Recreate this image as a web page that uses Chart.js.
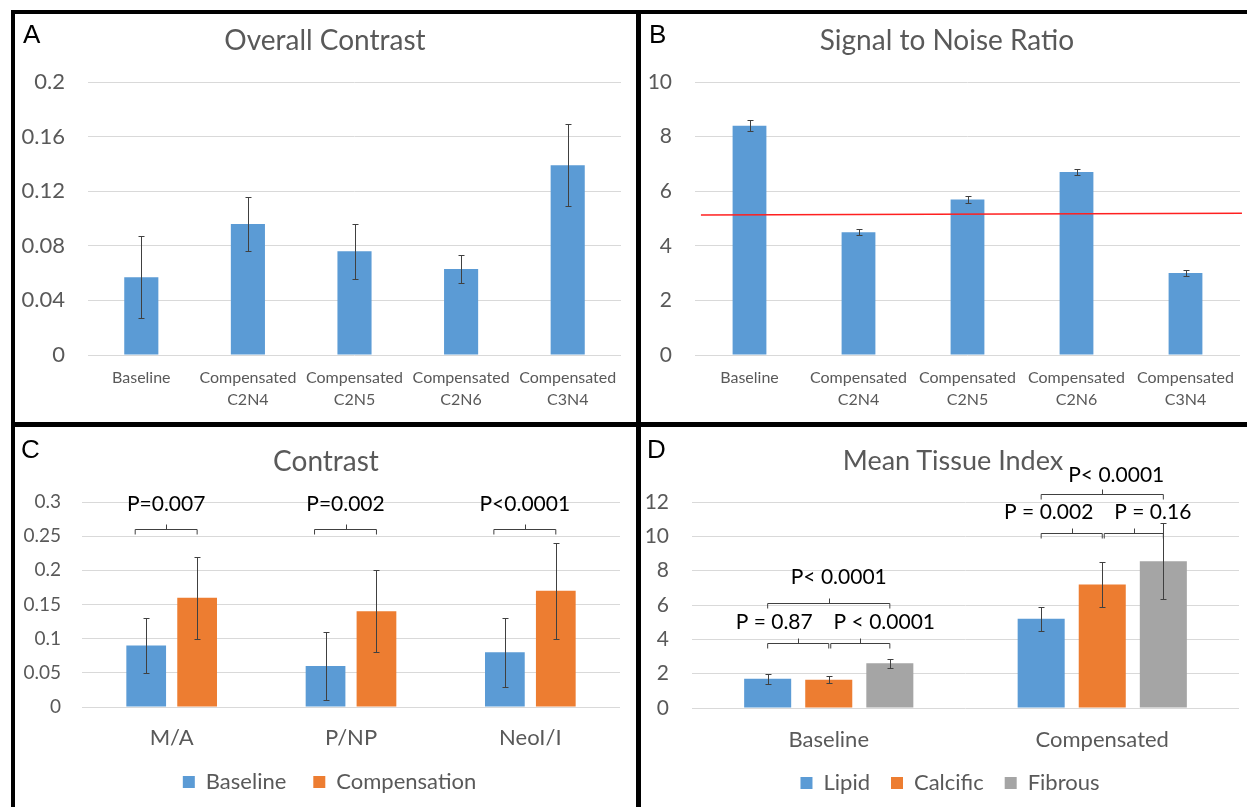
<!DOCTYPE html>
<html><head><meta charset="utf-8">
<script src="https://cdn.jsdelivr.net/npm/chart.js@4.4.1/dist/chart.umd.min.js"></script>
<style>
html,body{margin:0;padding:0;background:#fff;width:1247px;height:807px;overflow:hidden;}
#wrap{position:relative;width:1247px;height:807px;}
.frame{position:absolute;background:#000;}
canvas{position:absolute;}
.title{position:absolute;width:500px;text-align:center;font-family:Lato,sans-serif;color:#595959;font-size:28px;line-height:30px;white-space:nowrap;}
.letter{position:absolute;font-family:'Liberation Sans',Arial,sans-serif;font-size:26px;line-height:26px;color:#000;}
</style></head>
<body><div id="wrap">
<canvas id="cA" width="621" height="408" style="left:15px;top:14px"></canvas>
<canvas id="cB" width="606" height="408" style="left:641px;top:14px"></canvas>
<canvas id="cC" width="621" height="380" style="left:15px;top:427px"></canvas>
<canvas id="cD" width="606" height="380" style="left:641px;top:427px"></canvas>

<div class="title" style="left:75px;top:24px">Overall Contrast</div>
<div class="title" style="left:697px;top:24px">Signal to Noise Ratio</div>
<div class="title" style="left:76px;top:445px">Contrast</div>
<div class="title" style="left:703px;top:445px;font-size:27px">Mean Tissue Index</div>

<div class="letter" style="left:23px;top:21px">A</div>
<div class="letter" style="left:649px;top:21px">B</div>
<div class="letter" style="left:21px;top:436px">C</div>
<div class="letter" style="left:647px;top:436px">D</div>

<div class="frame" style="left:11px;top:10px;width:1236px;height:4px"></div>
<div class="frame" style="left:11px;top:10px;width:4px;height:797px"></div>
<div class="frame" style="left:636px;top:10px;width:5px;height:797px"></div>
<div class="frame" style="left:11px;top:422px;width:1236px;height:5px"></div>
</div>
<script>
// ---------- DATA ----------
const overallCategories = ['Baseline', ['Compensated','C2N4'], ['Compensated','C2N5'], ['Compensated','C2N6'], ['Compensated','C3N4']];
const overallContrast = [0.057, 0.096, 0.076, 0.063, 0.139];
const overallContrastErr = [0.030, 0.020, 0.020, 0.010, 0.030];
const overallTickValues = [0, 0.04, 0.08, 0.12, 0.16, 0.2];
const overallTickLabels = ['0', '0.04', '0.08', '0.12', '0.16', '0.2'];

const snrCategories = ['Baseline', ['Compensated','C2N4'], ['Compensated','C2N5'], ['Compensated','C2N6'], ['Compensated','C3N4']];
const snrValues = [8.4, 4.5, 5.7, 6.7, 3.0];
const snrErr = [0.2, 0.12, 0.12, 0.12, 0.12];
const snrThreshold = [{x: 0, y: 5.13}, {x: 1, y: 5.19}];
const snrTickValues = [0, 2, 4, 6, 8, 10];
const snrTickLabels = ['0', '2', '4', '6', '8', '10'];

const contrastCategories = ['M/A', 'P/NP', 'NeoI/I'];
const contrastBaseline = [0.09, 0.06, 0.08];
const contrastBaselineErr = [0.04, 0.05, 0.05];
const contrastCompensation = [0.16, 0.14, 0.17];
const contrastCompensationErr = [0.06, 0.06, 0.07];
const contrastTickValues = [0, 0.05, 0.1, 0.15, 0.2, 0.25, 0.3];
const contrastTickLabels = ['0', '0.05', '0.1', '0.15', '0.2', '0.25', '0.3'];
const contrastPValues = ['P=0.007', 'P=0.002', 'P<0.0001'];

const tissueCategories = ['Baseline', 'Compensated'];
const tissueLipid = [1.7, 5.2];
const tissueLipidErr = [0.3, 0.7];
const tissueCalcific = [1.65, 7.2];
const tissueCalcificErr = [0.2, 1.3];
const tissueFibrous = [2.6, 8.55];
const tissueFibrousErr = [0.26, 2.2];
const tissueTickValues = [0, 2, 4, 6, 8, 10, 12];
const tissueTickLabels = ['0', '2', '4', '6', '8', '10', '12'];

// ---------- STYLE / LAYOUT ----------
const BLUE = '#5B9BD5', ORANGE = '#ED7D31', GRAY = '#A5A5A5';
const TEXT = '#595959', GRID = '#D9D9D9', ERR = '#404040';
Chart.defaults.font.family = 'Lato';
Chart.defaults.color = TEXT;

const errorBarPlugin = {
  id: 'errorBars',
  afterDatasetsDraw(chart) {
    const ctx = chart.ctx, y = chart.scales.y;
    ctx.save();
    ctx.strokeStyle = ERR; ctx.lineWidth = 1;
    chart.data.datasets.forEach((ds, di) => {
      if (!ds.errorBars) return;
      const meta = chart.getDatasetMeta(di);
      meta.data.forEach((bar, j) => {
        const v = ds.data[j], e = ds.errorBars[j];
        const x = Math.round(bar.x) + 0.5;
        const yt = Math.round(y.getPixelForValue(v + e)) + 0.5;
        const yb = Math.round(y.getPixelForValue(v - e)) + 0.5;
        ctx.beginPath();
        ctx.moveTo(x, yt); ctx.lineTo(x, yb);
        ctx.moveTo(x - 3, yt); ctx.lineTo(x + 3, yt);
        ctx.moveTo(x - 3, yb); ctx.lineTo(x + 3, yb);
        ctx.stroke();
      });
    });
    ctx.restore();
  }
};

function bracketPlugin(items, fontSize) {
  return {
    id: 'brackets',
    afterDraw(chart) {
      const ctx = chart.ctx, y = chart.scales.y;
      ctx.save();
      items.forEach(b => {
        const x1 = chart.getDatasetMeta(b.from[0]).data[b.from[1]].x + (b.shift1 || 0);
        const x2 = chart.getDatasetMeta(b.to[0]).data[b.to[1]].x + (b.shift2 || 0);
        const ly = Math.round(y.getPixelForValue(b.level)) + 0.5;
        const mx = (x1 + x2) / 2;
        ctx.strokeStyle = ERR; ctx.lineWidth = 1;
        ctx.beginPath();
        ctx.moveTo(x1, ly + 5); ctx.lineTo(x1, ly); ctx.lineTo(x2, ly); ctx.lineTo(x2, ly + 5);
        ctx.moveTo(Math.round(mx) + 0.5, ly); ctx.lineTo(Math.round(mx) + 0.5, ly - 5);
        ctx.stroke();
        ctx.fillStyle = '#000';
        ctx.font = fontSize + 'px Lato';
        ctx.textAlign = 'center'; ctx.textBaseline = 'middle';
        ctx.fillText(b.text, mx + (b.dx || 0), y.getPixelForValue(b.textLevel));
      });
      ctx.restore();
    }
  };
}

function legendShift(dx, dy) {
  return {
    id: 'legendShift',
    afterLayout(chart) {
      const l = chart.legend;
      if (!l) return;
      l.left += dx; l.right += dx; l.top += dy; l.bottom += dy;
    }
  };
}

function scalesFor(o) {
  return {
    x: {
      grid: {display: false, drawTicks: false}, border: {display: false},
      ticks: {font: {size: o.xSize, lineHeight: o.xLine}, color: TEXT, padding: o.xPad,
              maxRotation: 0, minRotation: 0, autoSkip: false},
      afterFit: sc => { sc.height = o.xHeight; }
    },
    y: {
      min: o.yValues[0], max: o.yValues[o.yValues.length - 1],
      grid: {color: GRID, lineWidth: 1, drawTicks: false}, border: {display: false},
      ticks: {font: {size: o.ySize}, color: TEXT, padding: o.yPad,
              callback: (v, i) => o.yLabels[i]},
      afterBuildTicks: sc => { sc.ticks = o.yValues.map(v => ({value: v})); },
      afterFit: sc => { sc.width = o.yWidth; }
    }
  };
}

function legendFor(o) {
  if (!o.legend) return {display: false};
  return {
    display: true, position: 'bottom',
    labels: {boxWidth: 12, boxHeight: 12, padding: o.legendPad, color: TEXT, font: {size: 22}}
  };
}

function baseOptions(o) {
  return {
    responsive: false, animation: false, events: [],
    layout: {padding: o.padding},
    scales: scalesFor(o),
    plugins: {legend: legendFor(o), tooltip: {enabled: false}, title: {display: false}}
  };
}

// ---------- A ----------
new Chart(document.getElementById('cA'), {
  type: 'bar',
  data: {
    labels: overallCategories,
    datasets: [{label: 'Overall Contrast', data: overallContrast, errorBars: overallContrastErr,
      backgroundColor: BLUE, borderWidth: 0, categoryPercentage: 1, barPercentage: 0.32}]
  },
  options: baseOptions({padding: {top: 68, right: 15, bottom: 0, left: 0},
    yWidth: 73, xHeight: 67, xSize: 16, xLine: '22px', xPad: 12, ySize: 22, yPad: 23,
    yValues: overallTickValues, yLabels: overallTickLabels}),
  plugins: [errorBarPlugin]
});

// ---------- B ----------
const optB = baseOptions({padding: {top: 68, right: 7, bottom: 0, left: 0},
  yWidth: 54, xHeight: 67, xSize: 16, xLine: '22px', xPad: 12, ySize: 21, yPad: 23,
  yValues: snrTickValues, yLabels: snrTickLabels});
// threshold line spans slightly beyond the plot area, as in the source figure
optB.scales.x2 = {type: 'linear', min: -0.011, max: 0.9964, display: false, offset: false};
new Chart(document.getElementById('cB'), {
  type: 'bar',
  data: {
    labels: snrCategories,
    datasets: [
      {type: 'line', label: 'Threshold', data: snrThreshold, xAxisID: 'x2', clip: false,
        borderColor: '#FF2020', borderWidth: 1.5, pointRadius: 0, fill: false, order: 0},
      {type: 'bar', label: 'Signal to Noise Ratio', data: snrValues, errorBars: snrErr, grouped: false,
        backgroundColor: BLUE, borderWidth: 0, categoryPercentage: 1, barPercentage: 0.31, order: 1}
    ]
  },
  options: optB,
  plugins: [errorBarPlugin]
});

// ---------- C ----------
const contrastBrackets = contrastPValues.map((t, i) => ({
  text: t, from: [0, i], to: [1, i], shift1: -11, level: 0.26, textLevel: 0.297
}));
new Chart(document.getElementById('cC'), {
  type: 'bar',
  data: {
    labels: contrastCategories,
    datasets: [
      {label: 'Baseline', data: contrastBaseline, errorBars: contrastBaselineErr,
        backgroundColor: BLUE, borderWidth: 0, categoryPercentage: 0.568, barPercentage: 0.78},
      {label: 'Compensation', data: contrastCompensation, errorBars: contrastCompensationErr,
        backgroundColor: ORANGE, borderWidth: 0, categoryPercentage: 0.568, barPercentage: 0.78}
    ]
  },
  options: baseOptions({padding: {top: 75, right: 16, bottom: 0, left: 0},
    yWidth: 67, xHeight: 41, xSize: 22, xLine: '22px', xPad: 20, ySize: 19, yPad: 21,
    yValues: contrastTickValues, yLabels: contrastTickLabels, legend: true, legendPad: 27}),
  plugins: [errorBarPlugin, bracketPlugin(contrastBrackets, 21), legendShift(12, -4)]
});

// ---------- D ----------
const tissueBrackets = [
  {text: 'P = 0.87',   from: [0, 0], to: [1, 0], level: 3.77,  textLevel: 5.0,   dx: -24},
  {text: 'P < 0.0001', from: [1, 0], to: [2, 0], level: 3.77,  textLevel: 5.0,   dx: 24, shift1: 2},
  {text: 'P< 0.0001',  from: [0, 0], to: [2, 0], level: 6.11,  textLevel: 7.63,  dx: 10},
  {text: 'P = 0.002',  from: [0, 1], to: [1, 1], level: 10.19, textLevel: 11.42, dx: -23},
  {text: 'P = 0.16',   from: [1, 1], to: [2, 1], level: 10.19, textLevel: 11.42, dx: 19, shift1: 2},
  {text: 'P< 0.0001',  from: [0, 1], to: [2, 1], level: 12.47, textLevel: 13.58, dx: 14}
];
new Chart(document.getElementById('cD'), {
  type: 'bar',
  data: {
    labels: tissueCategories,
    datasets: [
      {label: 'Lipid', data: tissueLipid, errorBars: tissueLipidErr,
        backgroundColor: BLUE, borderWidth: 0, categoryPercentage: 0.67, barPercentage: 0.77},
      {label: 'Calcific', data: tissueCalcific, errorBars: tissueCalcificErr,
        backgroundColor: ORANGE, borderWidth: 0, categoryPercentage: 0.67, barPercentage: 0.77},
      {label: 'Fibrous', data: tissueFibrous, errorBars: tissueFibrousErr,
        backgroundColor: GRAY, borderWidth: 0, categoryPercentage: 0.67, barPercentage: 0.77}
    ]
  },
  options: baseOptions({padding: {top: 75, right: 8, bottom: 0, left: 0},
    yWidth: 51, xHeight: 46, xSize: 22, xLine: 1.2, xPad: 19, ySize: 21, yPad: 23,
    yValues: tissueTickValues, yLabels: tissueTickLabels, legend: true, legendPad: 21}),
  plugins: [errorBarPlugin, bracketPlugin(tissueBrackets, 21), legendShift(10, -3)]
});
</script>
</body></html>
